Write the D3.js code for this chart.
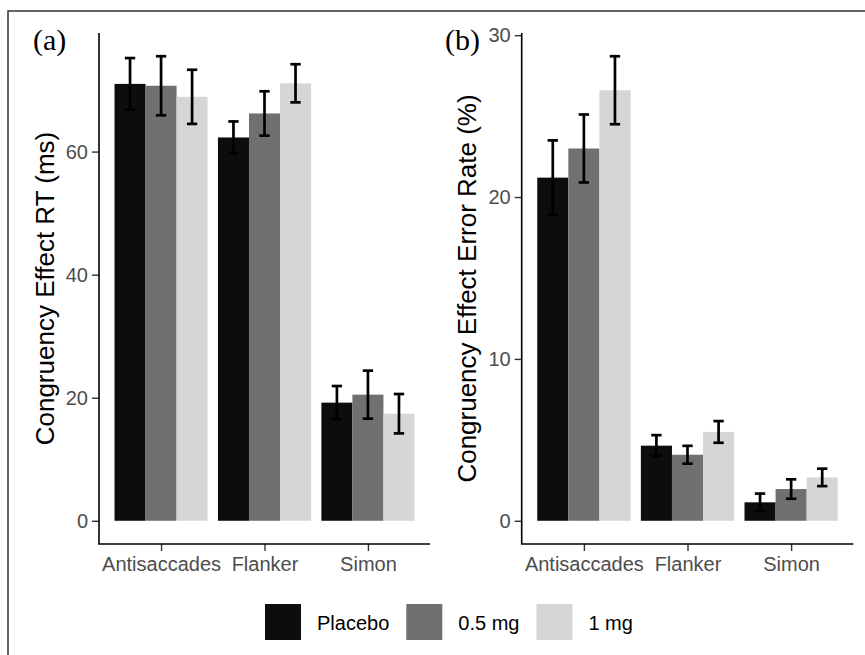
<!DOCTYPE html>
<html lang="en">
<head>
    <meta charset="UTF-8">
    <title>Congruency effects by task and dose</title>
    <script src="https://d3js.org/d3.v7.min.js"></script>
    <style>
        body, html {
            margin: 0;
            padding: 0;
            background: #fff;
        }
        svg text {
            font-family: "Liberation Sans", Arial, sans-serif;
        }
        .tick-label {
            fill: #4d4d4d;
            font-size: 20px;
        }
        .axis-title {
            fill: #000;
            font-size: 26px;
        }
        .panel-tag {
            font-family: "Liberation Serif", "Times New Roman", serif !important;
            font-size: 30px;
            fill: #000;
        }
    </style>
</head>
<body>
<div id="chart"></div>
<script>
    // data
    const tasks = ["Antisaccades", "Flanker", "Simon"];
    const doses = ["Placebo", "0.5 mg", "1 mg"];
    const doseColors = ["#0d0d0d", "#707070", "#d6d6d6"];

    // congruency effect RT (ms), rows = task, cols = dose
    const rtMean = [[71.0, 70.7, 68.9], [62.3, 66.2, 71.1], [19.2, 20.5, 17.4]];
    const rtSE = [[4.2, 4.8, 4.4], [2.6, 3.6, 3.1], [2.7, 3.9, 3.2]];
    const rtTicks = [0, 20, 40, 60];

    // congruency effect error rate (%)
    const erMean = [[21.2, 23.0, 26.6], [4.64, 4.08, 5.49], [1.14, 1.96, 2.68]];
    const erSE = [[2.3, 2.1, 2.1], [0.65, 0.55, 0.67], [0.54, 0.60, 0.54]];
    const erTicks = [0, 10, 20, 30];

    const W = 865, H = 655;
    const svg = d3.select("#chart").append("svg")
        .attr("width", W)
        .attr("height", H);

    // frame (only top and left edges are inside the picture)
    svg.append("path")
        .attr("d", `M8,${H} L8,11 L${W},11`)
        .attr("fill", "none")
        .attr("stroke", "#333")
        .attr("stroke-width", 1.5);

    const plotTop = 33, plotBottom = 544;

    function drawPanel(opts) {
        const { x0, x1, means, ses, ticks, title, titleX, tag, tagX } = opts;
        const g = svg.append("g");

        const upper = means.flatMap((row, i) => row.map((m, j) => m + ses[i][j]));
        const maxV = d3.max(upper);
        const pad = maxV * 0.05;
        const y = d3.scaleLinear()
            .domain([-pad, maxV + pad])
            .range([plotBottom, plotTop]);

        const x = d3.scalePoint()
            .domain(tasks)
            .range([x0, x1])
            .padding(0.6);

        const inner = d3.scaleBand()
            .domain(doses)
            .range([-0.45 * x.step(), 0.45 * x.step()]);

        const rows = [];
        tasks.forEach((t, i) => doses.forEach((d, j) => {
            rows.push({ task: t, dose: d, j, mean: means[i][j], se: ses[i][j] });
        }));

        // bars
        g.selectAll(".bar")
            .data(rows)
            .enter().append("rect")
            .attr("class", "bar")
            .attr("x", d => x(d.task) + inner(d.dose))
            .attr("width", inner.bandwidth())
            .attr("y", d => y(d.mean))
            .attr("height", d => y(0) - y(d.mean))
            .attr("fill", d => doseColors[d.j]);

        // error bars
        const capW = inner.bandwidth() / 3;
        const eb = g.selectAll(".err")
            .data(rows)
            .enter().append("g")
            .attr("class", "err")
            .attr("transform", d => `translate(${x(d.task) + inner(d.dose) + inner.bandwidth() / 2},0)`)
            .attr("stroke", "#000")
            .attr("stroke-width", 2.7);
        eb.append("line")
            .attr("y1", d => y(d.mean + d.se))
            .attr("y2", d => y(d.mean - d.se));
        eb.append("line")
            .attr("x1", -capW / 2).attr("x2", capW / 2)
            .attr("y1", d => y(d.mean + d.se)).attr("y2", d => y(d.mean + d.se));
        eb.append("line")
            .attr("x1", -capW / 2).attr("x2", capW / 2)
            .attr("y1", d => y(d.mean - d.se)).attr("y2", d => y(d.mean - d.se));

        // y axis
        const yAxis = g.append("g")
            .attr("transform", `translate(${x0},0)`)
            .call(d3.axisLeft(y).tickValues(ticks).tickSize(7).tickPadding(4));
        yAxis.select(".domain").remove();
        yAxis.selectAll(".tick line").attr("stroke", "#333").attr("stroke-width", 1.4);
        yAxis.selectAll(".tick text").attr("class", "tick-label").attr("font-size", null).attr("font-family", null);

        // x axis
        const xAxis = g.append("g")
            .attr("transform", `translate(0,${plotBottom})`)
            .call(d3.axisBottom(x).tickSize(7).tickPadding(6));
        xAxis.select(".domain").remove();
        xAxis.selectAll(".tick line").attr("stroke", "#333").attr("stroke-width", 1.4);
        xAxis.selectAll(".tick text").attr("class", "tick-label").attr("font-size", null).attr("font-family", null);

        // axis lines
        g.append("path")
            .attr("d", `M${x0},${plotTop} L${x0},${plotBottom} L${x1},${plotBottom}`)
            .attr("fill", "none")
            .attr("stroke", "#000")
            .attr("stroke-width", 1.6);

        // title
        g.append("text")
            .attr("class", "axis-title")
            .attr("transform", `translate(${titleX},${(plotTop + plotBottom) / 2}) rotate(-90)`)
            .attr("text-anchor", "middle")
            .text(title);

        g.append("text")
            .attr("class", "panel-tag")
            .attr("x", tagX)
            .attr("y", 50)
            .text(tag);
    }

    drawPanel({
        x0: 99, x1: 430, means: rtMean, ses: rtSE, ticks: rtTicks,
        title: "Congruency Effect RT (ms)", titleX: 54, tag: "(a)", tagX: 33
    });
    drawPanel({
        x0: 521.7, x1: 853.3, means: erMean, ses: erSE, ticks: erTicks,
        title: "Congruency Effect Error Rate (%)", titleX: 476, tag: "(b)", tagX: 445
    });

    // legend
    const legend = svg.append("g").attr("transform", "translate(265,604)");
    let lx = 0;
    doses.forEach((d, j) => {
        legend.append("rect")
            .attr("x", lx).attr("y", 0)
            .attr("width", 36).attr("height", 36)
            .attr("fill", doseColors[j]);
        const t = legend.append("text")
            .attr("x", lx + 52)
            .attr("y", 26)
            .attr("font-size", 20)
            .attr("fill", "#000")
            .text(d);
        lx += 52 + t.node().getComputedTextLength() + 17;
    });
</script>
</body>
</html>
